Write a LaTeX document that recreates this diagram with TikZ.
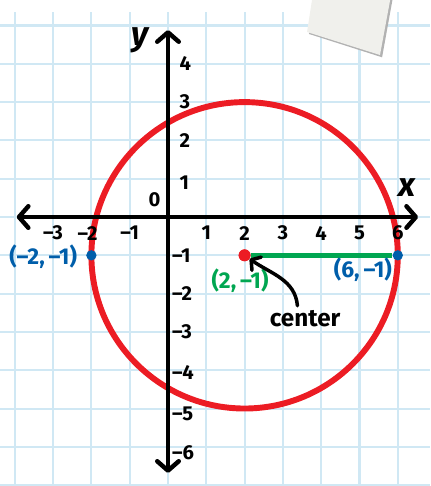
\documentclass[tikz,border=0pt]{standalone}
\usepackage{fontspec}
\setmainfont{Fira Sans}
\usetikzlibrary{arrows.meta,positioning}
\definecolor{gridblue}{RGB}{208,232,244}
\definecolor{circred}{RGB}{236,28,36}
\definecolor{radgreen}{RGB}{0,166,81}
\definecolor{ptblue}{RGB}{0,94,170}
\definecolor{tapegray}{RGB}{240,240,236}

\begin{document}
\begin{tikzpicture}[x=1cm,y=1cm,
    gridline/.style={gridblue,line width=1.5pt},
    axisline/.style={line width=3.3pt,line cap=round,
      {Straight Barb[length=7pt,width=16pt,round]}-{Straight Barb[length=7pt,width=16pt,round]}},
    tick/.style={font=\fontsize{15}{17}\selectfont\bfseries,inner sep=0pt},
    ptlab/.style={font=\fontsize{17}{19}\selectfont\bfseries,inner sep=0pt},
    axlab/.style={font=\fontsize{25}{27}\selectfont\itshape\bfseries,inner sep=0pt},
    dotmark/.style={circle,inner sep=0pt,minimum size=#1},
    pointer/.style={line width=2.6pt,line cap=round,-{Straight Barb[length=5pt,width=12pt,round]}}]
  \useasboundingbox (-4.386,-7.023) rectangle (6.841,5.666);
  % --- graph paper ---
  \foreach \gx in {-4,-3,...,6}{%
    \draw[gridline] (\gx,5.35) -- (\gx,-7.023);}
  \foreach \gy in {5,4,...,-7}{%
    \draw[gridline] (-4.386,\gy) -- (6.841,\gy);}
  % --- tape in the corner ---
  \fill[black!30] (3.82,5.666) -- (5.86,5.666) -- (5.59,4.17) -- (3.68,4.78) -- cycle;
  \fill[tapegray] (3.76,5.666) -- (5.80,5.666) -- (5.535,4.23) -- (3.63,4.83) -- cycle;
  % --- circle, centre (2,-1), radius 4 ---
  \node[dotmark=0.31cm,fill=circred] (ctr) at (2,-1) {};
  \draw[circred,line width=4.4pt] (ctr.center) circle[radius=4];
  % --- axes ---
  \coordinate (xl) at (-3.95,0);
  \coordinate (xr) at (6.53,0);
  \coordinate (yb) at (0,-6.68);
  \coordinate (yt) at (0,4.88);
  \draw[axisline] (xl) -- (xr);
  \draw[axisline] (yb) -- (yt);
  \node[axlab] (xname) at (6.24,0.76) {x};
  \node[axlab] (yname) at (-0.73,4.62) {y};
  \node[tick] (orig) at (-0.35,0.45) {0};
  % --- tick labels ---
  \foreach \tx/\lab in {-3/{–3},-2.1/{–2},-1/{–1},1/1,2/2,3/3,4/4,5/5,6/6}{%
    \node[tick] (xt\lab) at (\tx,-0.42) {\lab};}
  \foreach \ty/\lab in {4/4,3/3,2/2,0.9/1}{%
    \node[tick,anchor=west] (yt\lab) at (0.3,\ty) {\lab};}
  \foreach \ty/\lab in {-1/{–1},-2/{–2},-3/{–3},-4.07/{–4},-5.15/{–5},-6.15/{–6}}{%
    \node[tick,anchor=west] (yt\lab) at (0.1,\ty) {\lab};}
  % --- radius and points ---
  \node[dotmark=0.27cm,fill=ptblue] (lpt) at (-2,-1) {};
  \node[dotmark=0.27cm,fill=ptblue] (rpt) at (6,-1) {};
  \draw[radgreen,line width=3.6pt] (ctr) -- (rpt);
  \node[dotmark=0.31cm,fill=circred] at (ctr) {};
  \node[ptlab,text=ptblue] (llab) at (-3.26,-1.04) {(–2,\,–1)};
  \node[ptlab,text=ptblue] (rlab) at (5.09,-1.38) {(6,\,–1)};
  \node[ptlab,text=radgreen] (clab) at (1.88,-1.65) {(2,\,–1)};
  \node[ptlab,font=\fontsize{18}{20}\selectfont\bfseries] (cen) at (3.58,-2.66) {center};
  \draw[pointer] ([shift={(-0.2,0.12)}]cen.north) to[out=95,in=-35] (ctr);
\end{tikzpicture}
\end{document}
